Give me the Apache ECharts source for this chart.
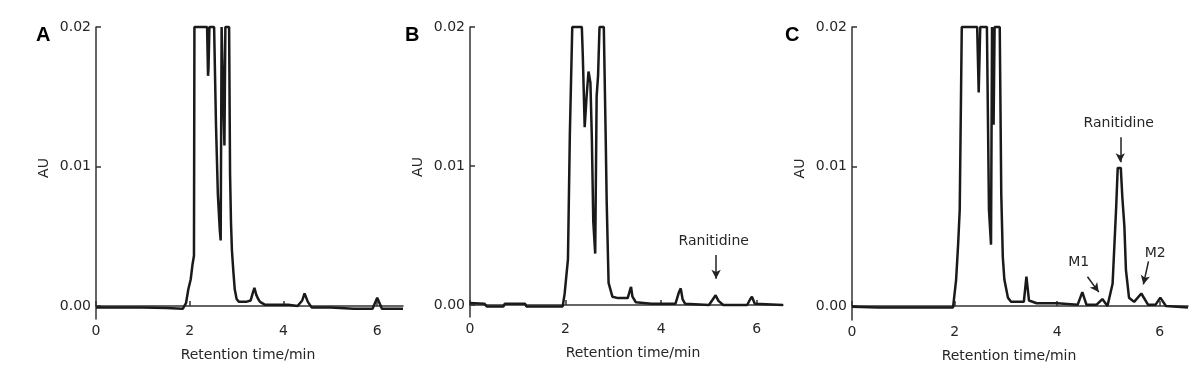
<!DOCTYPE html>
<html><head><meta charset="utf-8">
<script src="https://cdn.jsdelivr.net/npm/echarts@6/dist/echarts.min.js"></script>
<style>html,body{margin:0;padding:0;background:#fff}#c{width:1200px;height:379px}</style>
</head><body><div id="c"></div>
<script>
const panelLetters = ['A', 'B', 'C'];
const xTicks = [0, 2, 4, 6];
const yTicks = [0, 0.01, 0.02];
const xTitle = 'Retention time/min';
const yTitle = 'AU';

const timesA = [0, 0.5, 1.0, 1.5, 1.85, 1.92, 1.97, 2.02, 2.06, 2.09, 2.10, 2.37, 2.39, 2.40, 2.42, 2.52, 2.56, 2.60, 2.64, 2.66, 2.68, 2.72, 2.74, 2.76, 2.84, 2.86, 2.88, 2.90, 2.93, 2.96, 3.00, 3.05, 3.2, 3.3, 3.35, 3.38, 3.42, 3.46, 3.5, 3.6, 3.8, 4.1, 4.3, 4.4, 4.45, 4.48, 4.52, 4.6, 5.0, 5.5, 5.9, 5.95, 6.0, 6.05, 6.1, 6.55];
const auA = [-0.0001, -0.0001, -0.0001, -0.00015, -0.0002, 0.0002, 0.0012, 0.0019, 0.0030, 0.0036, 0.0200, 0.0200, 0.0165, 0.0170, 0.0200, 0.0200, 0.0130, 0.0080, 0.0055, 0.0047, 0.0200, 0.0200, 0.0115, 0.0200, 0.0200, 0.0095, 0.0060, 0.0040, 0.0025, 0.0012, 0.0005, 0.0003, 0.0003, 0.0004, 0.0010, 0.0013, 0.0008, 0.0005, 0.0003, 0.0001, 0.0001, 0.0001, 0.0000, 0.0004, 0.0009, 0.0010, 0.0003, -0.0001, -0.0001, -0.0002, -0.0002, 0.0002, 0.0006, 0.0002, -0.0002, -0.0002];

const timesB = [0, 0.3, 0.35, 0.7, 0.73, 1.15, 1.18, 1.94, 1.98, 2.05, 2.09, 2.14, 2.34, 2.36, 2.40, 2.44, 2.48, 2.52, 2.55, 2.58, 2.62, 2.65, 2.68, 2.71, 2.80, 2.84, 2.86, 2.90, 2.98, 3.1, 3.3, 3.35, 3.37, 3.40, 3.47, 3.8, 4.3, 4.37, 4.41, 4.45, 4.5, 5.0, 5.08, 5.14, 5.2, 5.3, 5.8, 5.86, 5.9, 5.96, 6.0, 6.55];
const auB = [0.00015, 0.0001, -0.0001, -0.0001, 0.0001, 0.0001, -0.0001, -0.0001, 0.0008, 0.0033, 0.0124, 0.0200, 0.0200, 0.0180, 0.0128, 0.0150, 0.0168, 0.0160, 0.0120, 0.0060, 0.0037, 0.0150, 0.0165, 0.0200, 0.0200, 0.0120, 0.0075, 0.0016, 0.0006, 0.0005, 0.0005, 0.0011, 0.0013, 0.0006, 0.0002, 0.0001, 0.0001, 0.0009, 0.0012, 0.0004, 0.0001, 0.0000, 0.0004, 0.0007, 0.0003, 0.0000, 0.0000, 0.0004, 0.0006, 0.0001, 0.0000, 0.0000];

const timesC = [0, 0.5, 1.0, 1.5, 1.97, 2.03, 2.07, 2.10, 2.14, 2.44, 2.47, 2.50, 2.63, 2.67, 2.71, 2.73, 2.76, 2.78, 2.80, 2.88, 2.91, 2.94, 2.97, 3.04, 3.1, 3.35, 3.40, 3.45, 3.6, 4.0, 4.4, 4.49, 4.57, 4.77, 4.88, 4.98, 5.08, 5.15, 5.18, 5.24, 5.27, 5.31, 5.34, 5.40, 5.50, 5.64, 5.77, 5.92, 6.01, 6.12, 6.55];
const auC = [-0.00005, -0.0001, -0.0001, -0.0001, -0.0001, 0.0019, 0.0045, 0.0069, 0.0200, 0.0200, 0.0153, 0.0200, 0.0200, 0.0069, 0.0044, 0.0200, 0.0130, 0.0200, 0.0200, 0.0200, 0.0080, 0.0035, 0.0019, 0.0006, 0.0003, 0.0003, 0.0021, 0.0004, 0.0002, 0.0002, 0.0001, 0.0010, 0.0001, 0.0001, 0.0005, 0.0000, 0.0016, 0.0071, 0.0099, 0.0099, 0.0078, 0.0057, 0.0026, 0.0006, 0.0003, 0.0009, 0.0001, 0.0001, 0.0006, 0.0000, -0.0001];

const yMins = [-0.00093, -0.00086, -0.001];
const xMax = 6.55;

const zip = (t, v) => t.map((x, i) => [x, v[i]]);
const seriesData = [zip(timesA, auA), zip(timesB, auB), zip(timesC, auC)];

const grids = [
  { left: 96, top: 27, width: 307, height: 292 },
  { left: 470, top: 27, width: 313, height: 290 },
  { left: 852, top: 27, width: 336, height: 293 }
];
const namePads = [[0, 3, 0, 0], [0, 0, 0, 13], [0, 22, 0, 0]];
const font = '"DejaVu Sans", Verdana, sans-serif';
const textColor = '#262626';

const xAxes = grids.map((g, i) => ({
  type: 'value', gridIndex: i, min: 0, max: xMax,
  name: xTitle, nameLocation: 'middle', nameGap: 29,
  nameTextStyle: { fontFamily: font, fontSize: 14, color: textColor, padding: namePads[i] },
  axisLine: { lineStyle: { color: '#333', width: 1.5 } },
  axisTick: { inside: true, length: 5, customValues: xTicks, lineStyle: { color: '#333', width: 1.5 } },
  axisLabel: { customValues: xTicks, fontFamily: font, fontSize: 14, color: textColor, margin: 5 },
  splitLine: { show: false }
}));
const yAxes = grids.map((g, i) => ({
  type: 'value', gridIndex: i, min: yMins[i], max: 0.02,
  name: yTitle, nameLocation: 'middle', nameGap: 45,
  nameTextStyle: { fontFamily: font, fontSize: 14, color: textColor, padding: [0, 0, 0, 10] },
  axisLine: { lineStyle: { color: '#333', width: 1.5 } },
  axisTick: { inside: true, length: 5, customValues: yTicks, lineStyle: { color: '#333', width: 1.5 } },
  axisLabel: { customValues: yTicks, fontFamily: font, fontSize: 14, color: textColor, margin: 5,
    formatter: v => v.toFixed(2) },
  splitLine: { show: false }
}));

const arrowStyle = { color: '#222', width: 1.5, type: 'solid' };
const textPt = (name, x, y) => ({ name: name, coord: [x, y], symbol: 'circle', symbolSize: 0,
  label: { show: true, position: 'inside', formatter: '{b}', fontFamily: font, fontSize: 14, color: textColor } });
const arrow = (x1, y1, x2, y2) => [{ coord: [x1, y1] }, { coord: [x2, y2] }];

const annotations = [
  null,
  { points: [textPt('Ranitidine', 5.1, 0.0046)], lines: [arrow(5.15, 0.0036, 5.15, 0.0019)] },
  { points: [textPt('Ranitidine', 5.2, 0.0131), textPt('M1', 4.42, 0.0031), textPt('M2', 5.91, 0.0038)],
    lines: [arrow(5.23, 0.0121, 5.23, 0.0103), arrow(4.59, 0.0021, 4.81, 0.0010), arrow(5.78, 0.0032, 5.68, 0.00155)] }
];

const series = seriesData.map((d, i) => {
  const s = {
    type: 'line', xAxisIndex: i, yAxisIndex: i, data: d, showSymbol: false, clip: false,
    lineStyle: { color: '#1a1a1a', width: 2.5 }, animation: false
  };
  const a = annotations[i];
  if (a) {
    s.markPoint = { silent: true, animation: false, data: a.points };
    s.markLine = { silent: true, animation: false, symbol: ['none', 'arrow'], symbolSize: [7, 9],
      lineStyle: arrowStyle, label: { show: false }, data: a.lines };
  }
  return s;
});

const letterPos = [36, 405, 785];
const graphic = panelLetters.map((t, i) => ({
  type: 'text', left: letterPos[i], top: 25,
  style: { text: t, font: 'bold 20px "Liberation Sans", Arial, sans-serif', fill: '#000' }
}));

const chart = echarts.init(document.getElementById('c'));
chart.setOption({
  backgroundColor: '#fff',
  animation: false,
  grid: grids,
  xAxis: xAxes,
  yAxis: yAxes,
  series: series,
  graphic: graphic
});
</script>
</body></html>
